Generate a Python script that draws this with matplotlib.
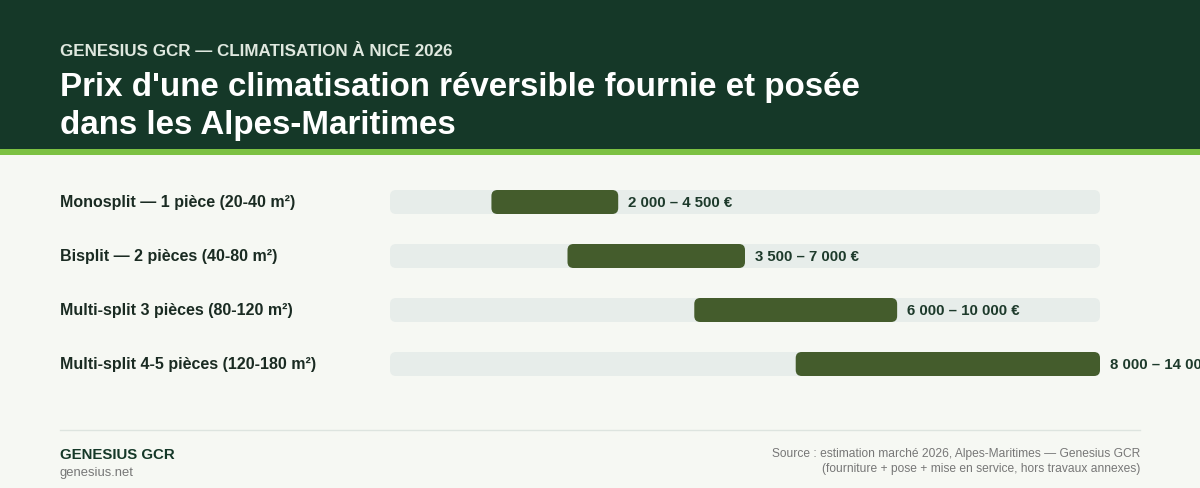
import matplotlib
matplotlib.use("Agg")
import matplotlib.pyplot as plt
from matplotlib.patches import FancyBboxPatch, Rectangle
from matplotlib.transforms import blended_transform_factory
from matplotlib.lines import Line2D

categories = [
    "Monosplit — 1 pièce (20-40 m²)",
    "Bisplit — 2 pièces (40-80 m²)",
    "Multi-split 3 pièces (80-120 m²)",
    "Multi-split 4-5 pièces (120-180 m²)",
]
price_low = [2000, 3500, 6000, 8000]
price_high = [4500, 7000, 10000, 14000]
axis_max = 14000

kicker = "GENESIUS GCR — CLIMATISATION À NICE 2026"
title_lines = ["Prix d'une climatisation réversible fournie et posée",
               "dans les Alpes-Maritimes"]
brand = "GENESIUS GCR"
site = "genesius.net"
source_lines = ["Source : estimation marché 2026, Alpes-Maritimes — Genesius GCR",
                "(fourniture + pose + mise en service, hors travaux annexes)"]

W, H = 1200, 489
DPI = 100
plt.rcParams['font.family'] = ['Liberation Sans', 'DejaVu Sans']

BG = "#f6f8f3"
HEADER = "#153828"
STRIPE = "#7cc142"
BAR = "#445c2c"
TRACK = "#e7edea"
DARK = "#1a2b22"
VAL = "#1d3a2b"
GREY = "#777777"

fig = plt.figure(figsize=(W / DPI, H / DPI), dpi=DPI, facecolor=BG)

def px(v):
    return v * 72.0 / DPI

def fy(y):
    return 1 - y / H

# header
fig.patches.append(Rectangle((0, fy(150)), 1, 150 / H, transform=fig.transFigure,
                             facecolor=HEADER, edgecolor='none', zorder=0))
fig.patches.append(Rectangle((0, fy(156)), 1, 6 / H, transform=fig.transFigure,
                             facecolor=STRIPE, edgecolor='none', zorder=0))
fig.text(60 / W, fy(55.5), kicker, fontsize=px(17), fontweight='bold', color="#dfe8df",
         va='baseline', ha='left')
fig.text(60 / W, fy(96), title_lines[0], fontsize=px(33.1), fontweight='bold', color="white",
         va='baseline', ha='left')
fig.text(60 / W, fy(134), title_lines[1], fontsize=px(33.1), fontweight='bold', color="white",
         va='baseline', ha='left')

# bar axes
ax_left, ax_right = 390, 1100
ax_top, ax_bot = 176, 392
ax = fig.add_axes([ax_left / W, 1 - ax_bot / H, (ax_right - ax_left) / W, (ax_bot - ax_top) / H])
ax.set_xlim(0, axis_max)
n = len(categories)
ax.set_ylim(n - 0.5, -0.5)
ax.axis('off')
ax.patch.set_alpha(0)

xu_per_px = axis_max / (ax_right - ax_left)
yu_per_px = n / (ax_bot - ax_top)
bar_h = 24 * yu_per_px
r_px = 6
aspect = yu_per_px / xu_per_px
trans_lab = blended_transform_factory(fig.transFigure, ax.transData)

for i, (cat, lo, hi) in enumerate(zip(categories, price_low, price_high)):
    track = FancyBboxPatch((0, i - bar_h / 2), axis_max, bar_h,
                           boxstyle=f"round,pad=0,rounding_size={r_px * xu_per_px}",
                           mutation_aspect=aspect, facecolor=TRACK, edgecolor='none', zorder=1)
    ax.add_patch(track)
    bar = FancyBboxPatch((lo, i - bar_h / 2), hi - lo, bar_h,
                         boxstyle=f"round,pad=0,rounding_size={r_px * xu_per_px}",
                         mutation_aspect=aspect, facecolor=BAR, edgecolor='none', zorder=2)
    ax.add_patch(bar)
    ax.text(60 / W, i, cat, transform=trans_lab, fontsize=px(16), fontweight='bold',
            color=DARK, va='center', ha='left', clip_on=False)
    lab = f"{lo:,} – {hi:,} €".replace(",", " ")
    ax.annotate(lab, xy=(hi, i), xytext=(10, 0), textcoords='offset pixels',
                fontsize=px(15), fontweight='bold', color=VAL, va='center', ha='left',
                annotation_clip=False)

# footer
fig.lines.append(Line2D([60 / W, 1140 / W], [fy(431), fy(431)], transform=fig.transFigure,
                        color="#dde4df", linewidth=1))
fig.text(60 / W, fy(459), brand, fontsize=px(15), fontweight='bold', color=HEADER,
         va='baseline', ha='left')
fig.text(60 / W, fy(476), site, fontsize=px(13), color=GREY, va='baseline', ha='left')
fig.text(1140 / W, fy(457), source_lines[0], fontsize=px(12), color=GREY,
         va='baseline', ha='right')
fig.text(1140 / W, fy(472), source_lines[1], fontsize=px(12), color=GREY,
         va='baseline', ha='right')

fig.savefig("out.png", dpi=DPI, facecolor=BG)
